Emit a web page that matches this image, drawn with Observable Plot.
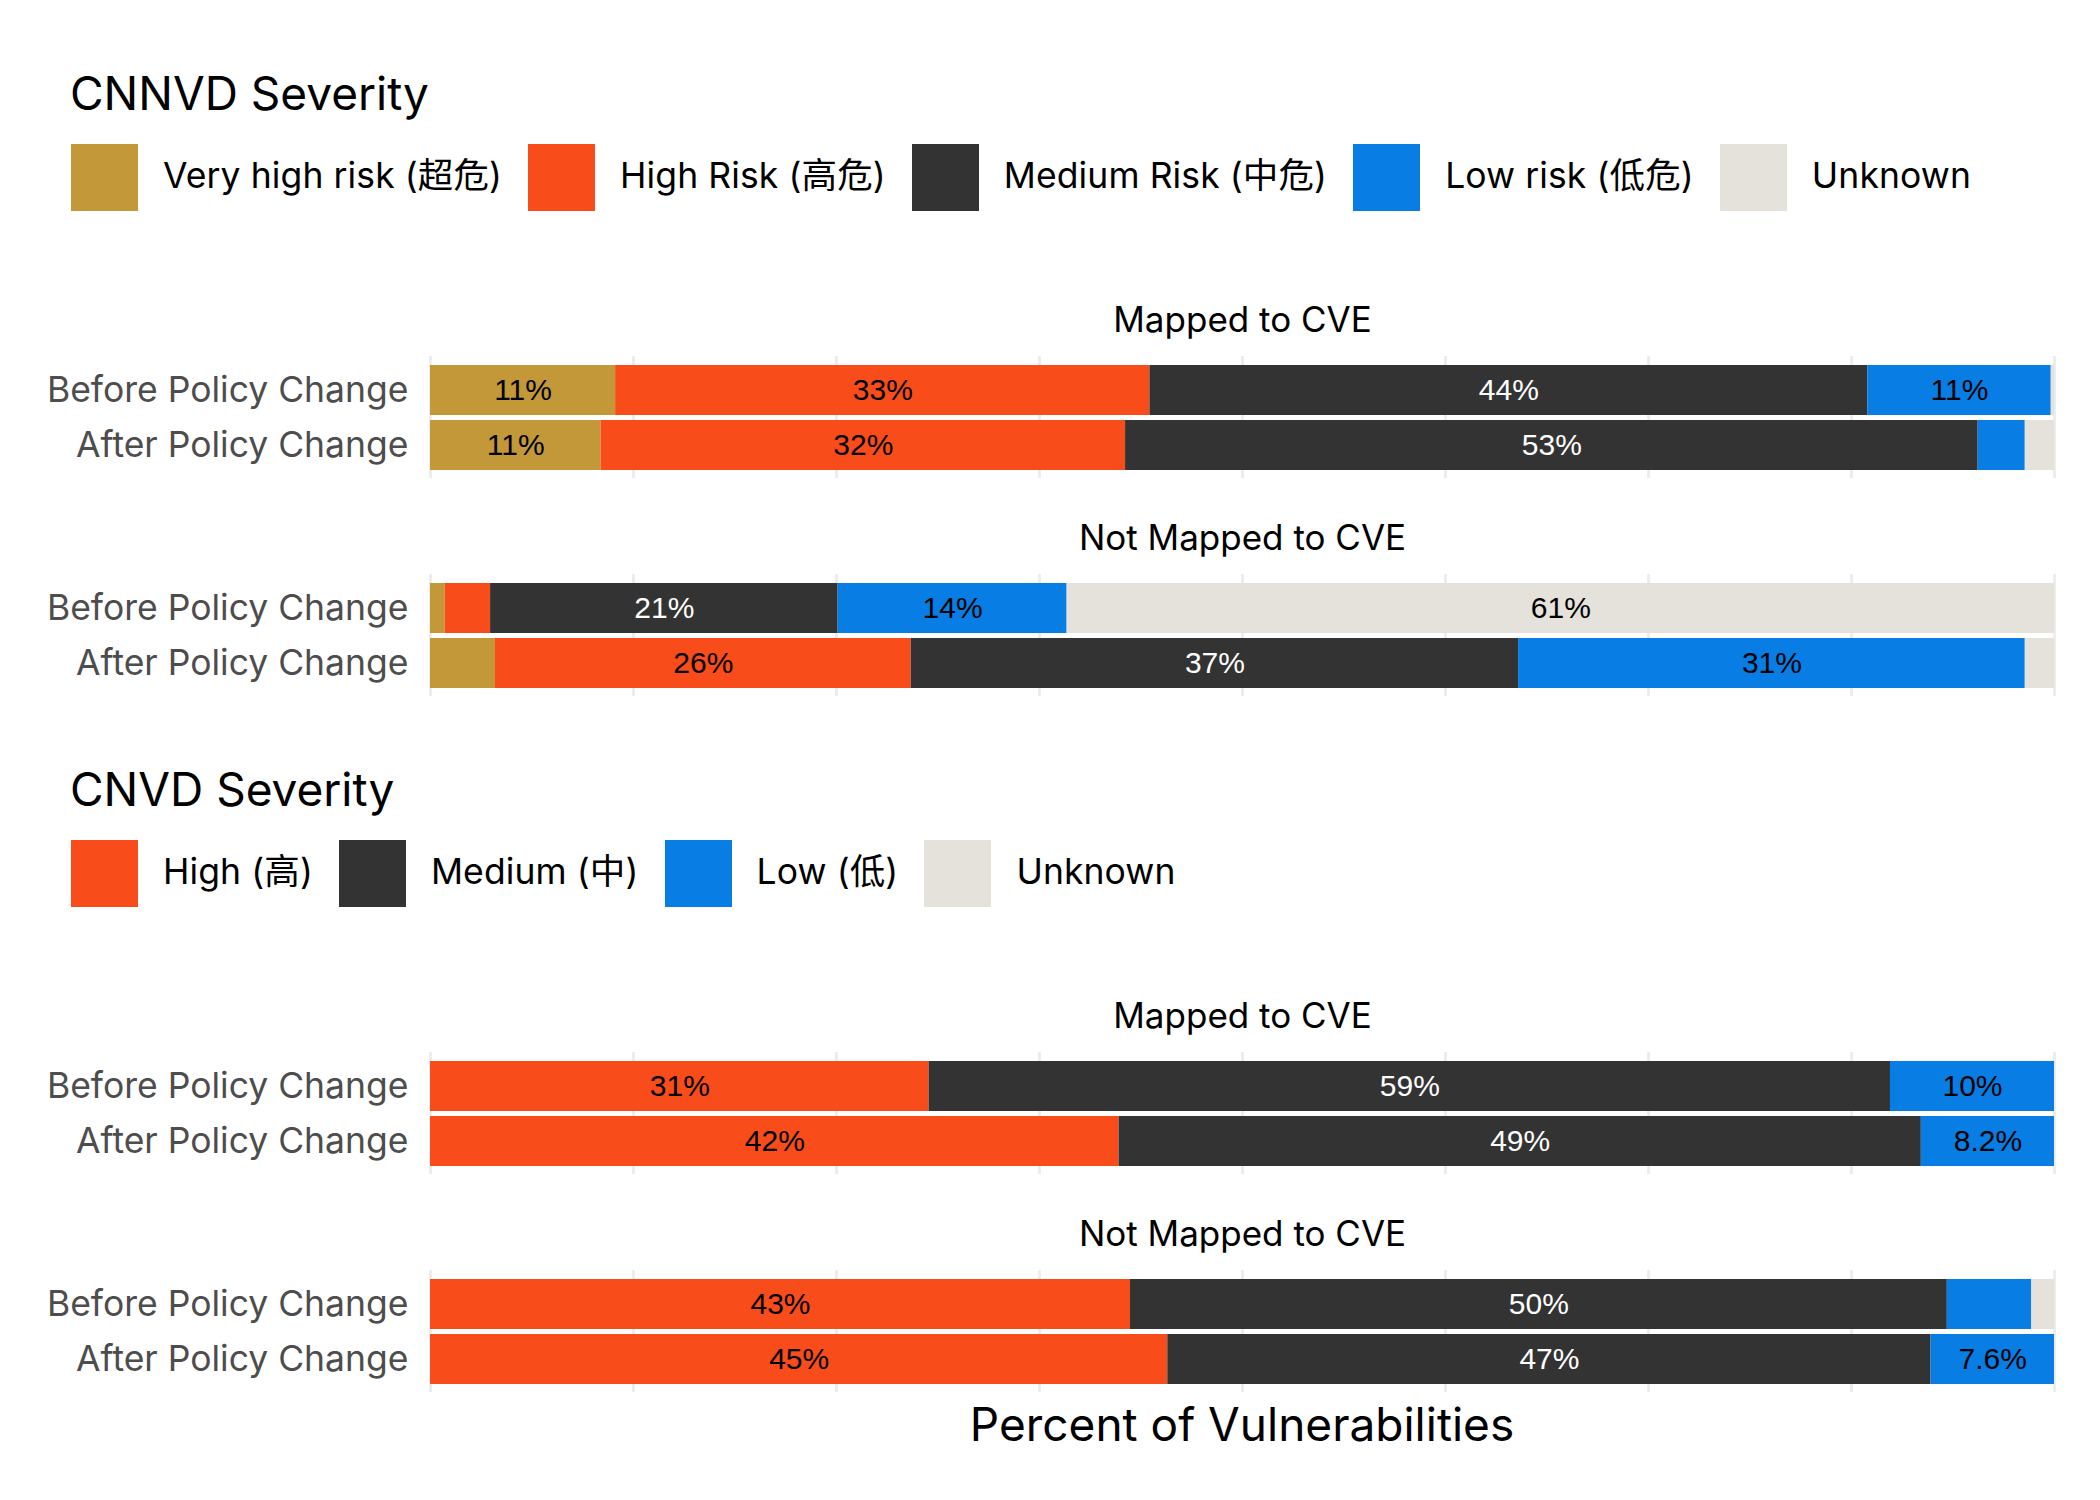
<!DOCTYPE html>
<html>
<head>
<meta charset="utf-8">
<script src="https://cdn.jsdelivr.net/npm/d3@7"></script>
<script src="https://cdn.jsdelivr.net/npm/@observablehq/plot@0.6"></script>
<style>
  html, body { margin: 0; padding: 0; background: #ffffff; }
  #root { position: relative; width: 2100px; height: 1500px; overflow: hidden; background: #fff;
          font-family: Inter, "Noto Sans CJK SC", sans-serif; color: #000; }
  .title { position: absolute; left: 70px; font-size: 46px; line-height: 46px; white-space: nowrap; }
  .legend { position: absolute; left: 71px; display: flex; align-items: center; height: 67px; }
  .item { display: flex; align-items: center; margin-right: 26px; }
  .sw { width: 67px; height: 67px; margin-right: 25px; }
  .lab { font-size: 35.5px; line-height: 36px; letter-spacing: 0.1px; white-space: nowrap; position: relative; top: -2px; }
  .block { position: absolute; left: 0; }
  .xtitle { position: absolute; left: 430px; width: 1624px; text-align: center; font-size: 46px; line-height: 46px; }
</style>
</head>
<body>
<div id="root"></div>
<script>
// ---------------- data ----------------
const periods = ["Before Policy Change", "After Policy Change"];
const mappings = ["Mapped to CVE", "Not Mapped to CVE"];

const severityCNNVD = ["Very high risk (超危)", "High Risk (高危)", "Medium Risk (中危)", "Low risk (低危)", "Unknown"];
const colorsCNNVD = ["#C29838", "#F84C1A", "#333333", "#087DE3", "#E4E2DB"];
const severityCNVD = ["High (高)", "Medium (中)", "Low (低)", "Unknown"];
const colorsCNVD = ["#F84C1A", "#333333", "#087DE3", "#E4E2DB"];

// percent of vulnerabilities, in severity order
const cnnvdMappedBefore    = [11.4, 32.9, 44.2, 11.3, 0.2];
const cnnvdMappedAfter     = [10.5, 32.3, 52.5, 2.9, 1.8];
const cnnvdNotMappedBefore = [0.9, 2.8, 21.4, 14.1, 60.8];
const cnnvdNotMappedAfter  = [4.0, 25.6, 37.4, 31.2, 1.8];

const cnvdMappedBefore     = [30.7, 59.2, 10.1, 0.0];
const cnvdMappedAfter      = [42.4, 49.4, 8.2, 0.0];
const cnvdNotMappedBefore  = [43.1, 50.3, 5.2, 1.4];
const cnvdNotMappedAfter   = [45.4, 47.0, 7.6, 0.0];

const gridTicks = [0, 12.5, 25, 37.5, 50, 62.5, 75, 87.5, 100];
const xTitle = "Percent of Vulnerabilities";

// ---------------- helpers ----------------
function buildRows(severities, groups) {
  const out = [];
  for (const [mapping, period, values] of groups) {
    values.forEach((v, i) => out.push({mapping, period, severity: severities[i], value: v}));
  }
  return out;
}
const cnnvdData = buildRows(severityCNNVD, [
  [mappings[0], periods[0], cnnvdMappedBefore],
  [mappings[0], periods[1], cnnvdMappedAfter],
  [mappings[1], periods[0], cnnvdNotMappedBefore],
  [mappings[1], periods[1], cnnvdNotMappedAfter]
]);
const cnvdData = buildRows(severityCNVD, [
  [mappings[0], periods[0], cnvdMappedBefore],
  [mappings[0], periods[1], cnvdMappedAfter],
  [mappings[1], periods[0], cnvdNotMappedBefore],
  [mappings[1], periods[1], cnvdNotMappedAfter]
]);

function fmt(v) {
  if (v < 6) return null;
  return (v < 10 ? v.toFixed(1) : String(Math.round(v))) + "%";
}

const FONT = "Inter, 'Noto Sans CJK SC', sans-serif";

function makeBlock(data, severities, colors, darkKey) {
  const stackOpts = (textFn, fill) => Plot.stackX({
    x: "value", y: "period", fy: "mapping", z: "severity", order: severities,
    text: textFn, fill, fontSize: 30, fontFamily: "'Liberation Sans', Arial, sans-serif"
  });
  return Plot.plot({
    width: 2100,
    height: 406,
    marginLeft: 430, marginRight: 46, marginTop: 60, marginBottom: 5,
    style: {fontFamily: FONT, color: "#4D4D4D", background: "transparent", overflow: "visible"},
    x: {domain: [0, 100], axis: null},
    y: {domain: periods, paddingInner: 0.1, paddingOuter: 0.15},
    fy: {domain: mappings, paddingInner: 0.44, paddingOuter: 0, axis: null},
    color: {domain: severities, range: colors},
    marks: [
      Plot.gridX(gridTicks, {stroke: "#EBEBEB", strokeOpacity: 1, strokeWidth: 2.7}),
      Plot.axisY({tickSize: 0, tickPadding: 22, fontSize: 35.5, color: "#4D4D4D", label: null}),
      Plot.barX(data, {x: "value", y: "period", fy: "mapping", fill: "severity", order: severities}),
      Plot.text(data, stackOpts(d => d.severity === darkKey ? fmt(d.value) : null, "white")),
      Plot.text(data, stackOpts(d => d.severity !== darkKey ? fmt(d.value) : null, "black")),
      Plot.text(mappings, {fy: d => d, text: d => d, frameAnchor: "top", lineAnchor: "middle", dy: -36,
                           fontSize: 35, fill: "black", fontFamily: FONT})
    ]
  });
}

function makeLegend(severities, colors, top) {
  const lg = document.createElement("div");
  lg.className = "legend";
  lg.style.top = top + "px";
  severities.forEach((s, i) => {
    const it = document.createElement("div");
    it.className = "item";
    const sw = document.createElement("div");
    sw.className = "sw";
    sw.style.background = colors[i];
    const lab = document.createElement("div");
    lab.className = "lab";
    lab.textContent = s;
    it.appendChild(sw); it.appendChild(lab);
    lg.appendChild(it);
  });
  return lg;
}

function addTitle(text, top) {
  const t = document.createElement("div");
  t.className = "title";
  t.style.top = top + "px";
  t.textContent = text;
  return t;
}

const root = document.getElementById("root");

// CNNVD section
root.appendChild(addTitle("CNNVD Severity", 70));
root.appendChild(makeLegend(severityCNNVD, colorsCNNVD, 144));
const b1 = document.createElement("div");
b1.className = "block"; b1.style.top = "296px";
b1.appendChild(makeBlock(cnnvdData, severityCNNVD, colorsCNNVD, severityCNNVD[2]));
root.appendChild(b1);

// CNVD section
root.appendChild(addTitle("CNVD Severity", 766));
root.appendChild(makeLegend(severityCNVD, colorsCNVD, 840));
const b2 = document.createElement("div");
b2.className = "block"; b2.style.top = "992px";
b2.appendChild(makeBlock(cnvdData, severityCNVD, colorsCNVD, severityCNVD[1]));
root.appendChild(b2);

// x axis title
const xt = document.createElement("div");
xt.className = "xtitle";
xt.style.top = "1401px";
xt.textContent = xTitle;
root.appendChild(xt);
</script>
</body>
</html>
